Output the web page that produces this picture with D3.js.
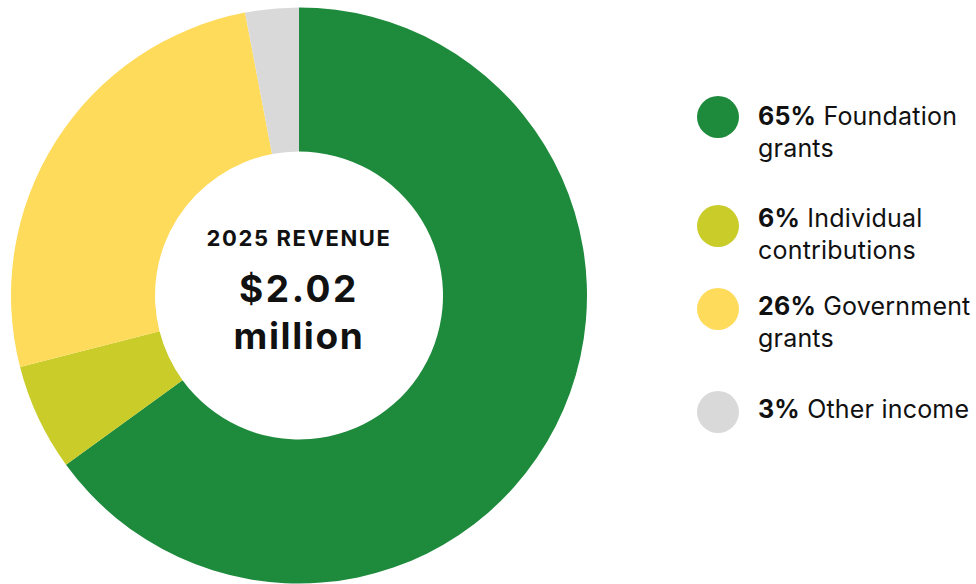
<!DOCTYPE html>
<html lang="en">
<head>
<meta charset="UTF-8">
<title>2025 Revenue</title>
<script src="https://d3js.org/d3.v7.min.js"></script>
<style>
    body { margin: 0; background: #fff; }
    svg text { font-family: Inter, "Noto Sans", sans-serif; fill: #111; }
    .center-label { font-weight: 700; text-anchor: middle; }
    .legend-text { font-size: 25px; letter-spacing: 0.2px; }
</style>
</head>
<body>
<div id="chart"></div>
<script>
    const categories = ["Foundation grants", "Individual contributions", "Government grants", "Other income"];
    const shares = [65, 6, 26, 3];
    const colors = ["#1e8a3c", "#c9cc29", "#fedb5a", "#d9d9d9"];
    const legendLine1 = ["Foundation", "Individual", "Government", "Other income"];
    const legendLine2 = ["grants", "contributions", "grants", ""];
    const totalLabel = ["2025 REVENUE", "$2.02", "million"];

    const width = 976, height = 584;
    const cx = 299, cy = 295.5;
    const outerR = 288, innerR = 144;

    const svg = d3.select("#chart").append("svg")
        .attr("width", width)
        .attr("height", height);

    const pie = d3.pie().sort(null).value(d => d);
    const arc = d3.arc().innerRadius(innerR).outerRadius(outerR);

    const g = svg.append("g").attr("transform", `translate(${cx},${cy})`);

    g.selectAll("path")
        .data(pie(shares))
        .join("path")
        .attr("d", arc)
        .attr("fill", (d, i) => colors[i]);

    // centre text
    g.append("text").attr("class", "center-label")
        .attr("y", -50).attr("font-size", 22)
        .attr("letter-spacing", 1.6)
        .text(totalLabel[0]);
    g.append("text").attr("class", "center-label")
        .attr("y", 6).attr("font-size", 37)
        .attr("letter-spacing", 2.6)
        .text(totalLabel[1]);
    g.append("text").attr("class", "center-label")
        .attr("y", 53).attr("font-size", 37)
        .attr("letter-spacing", 1.6)
        .text(totalLabel[2]);

    // legend
    const legendX = 718;
    const dotY = [117, 226, 309, 412];
    const textY = [125, 227, 315, 418];
    const lineGap = 32;

    const legend = svg.append("g");
    categories.forEach((c, i) => {
        legend.append("circle")
            .attr("cx", legendX)
            .attr("cy", dotY[i])
            .attr("r", 21)
            .attr("fill", colors[i]);

        const t = legend.append("text")
            .attr("class", "legend-text")
            .attr("x", legendX + 40)
            .attr("y", textY[i]);
        t.append("tspan").attr("font-weight", 700).text(shares[i] + "%");
        t.append("tspan").text(" " + legendLine1[i]);

        if (legendLine2[i]) {
            legend.append("text")
                .attr("class", "legend-text")
                .attr("x", legendX + 40)
                .attr("y", textY[i] + lineGap)
                .text(legendLine2[i]);
        }
    });
</script>
</body>
</html>
